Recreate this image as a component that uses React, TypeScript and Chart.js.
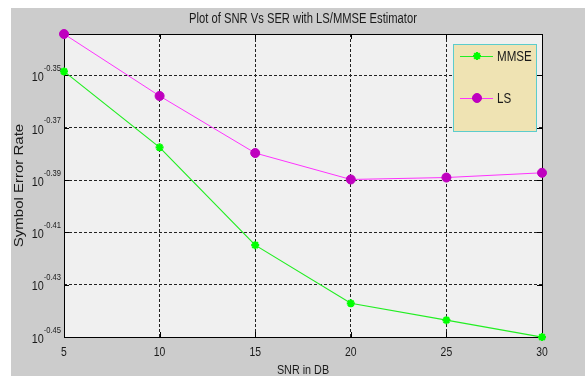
import React, { useEffect, useRef } from "react";
import { Chart, registerables } from "chart.js";
import { drawPoint } from "chart.js/helpers";

Chart.register(...registerables);

const snrDb = [5, 10, 15, 20, 25, 30];
const serMmse = [0.4483, 0.4193, 0.3847, 0.3655, 0.3601, 0.3548];
const serLs = [0.4633, 0.4387, 0.4172, 0.4076, 0.4083, 0.41];
const xTickValues = [5, 10, 15, 20, 25, 30];
const yTickExponents = [-0.35, -0.37, -0.39, -0.41, -0.43, -0.45];
const seriesLabels = ["MMSE", "LS"];
const titleText = "Plot of SNR Vs SER with LS/MMSE Estimator";
const xTitle = "SNR in DB";
const yTitle = "Symbol Error Rate";

const FONT = "'Liberation Sans', Arial, Helvetica, sans-serif";
const SQ = 0.8; // horizontal condensation of the text

const Y_MIN = Math.pow(10, -0.45);
const Y_MAX = Math.max(...serLs, ...serMmse);

function squeezedText(ctx: CanvasRenderingContext2D, text: string, x: number, y: number, size: number, align: "left" | "right" | "center") {
  ctx.save();
  ctx.font = `${size}px ${FONT}`;
  ctx.textBaseline = "middle";
  ctx.textAlign = "left";
  const w = ctx.measureText(text).width * SQ;
  let x0 = x;
  if (align === "center") x0 = x - w / 2;
  if (align === "right") x0 = x - w;
  ctx.translate(x0, y);
  ctx.scale(SQ, 1);
  ctx.fillText(text, 0, 0);
  ctx.restore();
  return w;
}

function measureSqueezed(ctx: CanvasRenderingContext2D, text: string, size: number) {
  ctx.save();
  ctx.font = `${size}px ${FONT}`;
  const w = ctx.measureText(text).width * SQ;
  ctx.restore();
  return w;
}

const decorPlugin = {
  id: "matlabDecor",
  beforeDraw(chart: any) {
    const { ctx, width, height, chartArea: a } = chart;
    ctx.save();
    ctx.fillStyle = "#ffffff";
    ctx.fillRect(0, 0, width, height);
    ctx.fillStyle = "#cccccc";
    ctx.fillRect(11, 8, width - 11, height - 8);
    ctx.fillStyle = "#f0f0f0";
    ctx.fillRect(a.left, a.top, a.right - a.left, a.bottom - a.top);
    ctx.restore();
  },
  beforeDatasetsDraw(chart: any) {
    const { ctx, chartArea: a, scales } = chart;
    const xs = scales.x;
    const ys = scales.y;
    ctx.save();
    ctx.strokeStyle = "#000";
    ctx.lineWidth = 1;
    ctx.strokeRect(Math.round(a.left) + 0.5, Math.round(a.top) + 0.5, Math.round(a.right - a.left), Math.round(a.bottom - a.top));
    ctx.beginPath();
    xTickValues.forEach((v) => {
      const px = Math.round(xs.getPixelForValue(v)) + 0.5;
      ctx.moveTo(px, a.bottom);
      ctx.lineTo(px, a.bottom - 5);
      ctx.moveTo(px, a.top);
      ctx.lineTo(px, a.top + 5);
    });
    yTickExponents.forEach((e) => {
      const py = Math.round(ys.getPixelForValue(Math.pow(10, e))) + 0.5;
      ctx.moveTo(a.left, py);
      ctx.lineTo(a.left + 5, py);
      ctx.moveTo(a.right, py);
      ctx.lineTo(a.right - 5, py);
    });
    ctx.stroke();
    ctx.restore();
  },
  afterDatasetsDraw(chart: any) {
    const { ctx, chartArea: a, scales } = chart;
    const xs = scales.x;
    const ys = scales.y;
    ctx.save();
    ctx.fillStyle = "#1a1a1a";
    // x tick labels
    xTickValues.forEach((v) => {
      squeezedText(ctx, String(v), xs.getPixelForValue(v), a.bottom + 15, 13, "center");
    });
    // y tick labels 10^e
    yTickExponents.forEach((e) => {
      const py = ys.getPixelForValue(Math.pow(10, e));
      const expStr = e.toFixed(2);
      const expW = measureSqueezed(ctx, expStr, 9.5);
      const expX = a.left - 3 - expW;
      squeezedText(ctx, expStr, expX, py - 7, 9.5, "left");
      squeezedText(ctx, "10", expX, py + 2, 13.5, "right");
    });
    // title
    squeezedText(ctx, titleText, (a.left + a.right) / 2, 19, 14, "center");
    // x title
    squeezedText(ctx, xTitle, (a.left + a.right) / 2, 370, 13.5, "center");
    // y title (rotated; glyph height condensed)
    ctx.save();
    ctx.translate(20, (a.top + a.bottom) / 2);
    ctx.scale(SQ, 1);
    ctx.rotate(-Math.PI / 2);
    ctx.font = `15px ${FONT}`;
    ctx.textAlign = "center";
    ctx.textBaseline = "middle";
    ctx.fillText(yTitle, 0, 0);
    ctx.restore();

    // legend
    const lx = 453, ly = 44, lw = 83, lh = 87;
    ctx.fillStyle = "#efe3b3";
    ctx.fillRect(lx, ly, lw, lh);
    ctx.strokeStyle = "#5ccccc";
    ctx.lineWidth = 1;
    ctx.strokeRect(lx + 0.5, ly + 0.5, lw, lh);
    const rows = [56, 98];
    chart.data.datasets.forEach((ds: any, i: number) => {
      const yy = rows[i];
      ctx.strokeStyle = ds.borderColor;
      ctx.lineWidth = 1;
      ctx.beginPath();
      ctx.moveTo(460, yy + 0.5);
      ctx.lineTo(493, yy + 0.5);
      ctx.stroke();
      ctx.fillStyle = ds.pointBackgroundColor;
      ctx.strokeStyle = ds.pointBorderColor;
      ctx.lineWidth = ds.pointBorderWidth;
      drawPoint(ctx, { pointStyle: ds.pointStyle, radius: ds.pointRadius, borderWidth: ds.pointBorderWidth, rotation: 0 }, 477, yy);
      ctx.fillStyle = "#1a1a1a";
      squeezedText(ctx, ds.label, 497, yy + 1, 14.5, "left");
    });
    ctx.restore();
  },
};

export default function App() {
  const ref = useRef<HTMLCanvasElement>(null);
  useEffect(() => {
    document.body.style.margin = "0";
    const canvas = ref.current!;
    const chart = new Chart(canvas, {
      type: "line",
      data: {
        datasets: [
          {
            label: seriesLabels[0],
            data: snrDb.map((x, i) => ({ x, y: serMmse[i] })),
            borderColor: "#22ee22",
            borderWidth: 1.2,
            pointStyle: "star",
            pointRadius: 4,
            pointBorderWidth: 2.2,
            pointBackgroundColor: "#00ff00",
            pointBorderColor: "#00ff00",
            fill: false,
            clip: false,
          },
          {
            label: seriesLabels[1],
            data: snrDb.map((x, i) => ({ x, y: serLs[i] })),
            borderColor: "#ff33ff",
            borderWidth: 1,
            pointStyle: "circle",
            pointRadius: 4.5,
            pointBorderWidth: 1,
            pointBackgroundColor: "#bf00bf",
            pointBorderColor: "#bf00bf",
            fill: false,
            clip: false,
          },
        ],
      },
      options: {
        animation: false,
        responsive: false,
        maintainAspectRatio: false,
        layout: { padding: { left: 64, top: 34, right: 43, bottom: 39 } },
        plugins: { legend: { display: false }, title: { display: false }, tooltip: { enabled: false } },
        elements: { line: { tension: 0 } },
        scales: {
          x: {
            type: "linear",
            min: 5,
            max: 30,
            bounds: "data",
            afterBuildTicks: (s: any) => {
              s.ticks = xTickValues.map((v) => ({ value: v }));
              s.min = 5;
              s.max = 30;
            },
            ticks: { display: false },
            grid: { color: "#222222", lineWidth: 1, drawTicks: false },
            border: { display: false, dash: [3, 2] },
          },
          y: {
            type: "logarithmic",
            min: Y_MIN,
            max: Y_MAX,
            bounds: "data",
            afterBuildTicks: (s: any) => {
              s.ticks = yTickExponents.map((e) => ({ value: Math.pow(10, e) }));
              s.min = Y_MIN;
              s.max = Y_MAX;
            },
            ticks: { display: false },
            grid: { color: "#222222", lineWidth: 1, drawTicks: false },
            border: { display: false, dash: [3, 2] },
          },
        },
      },
      plugins: [decorPlugin],
    });
    return () => chart.destroy();
  }, []);
  return <canvas ref={ref} width={585} height={376} style={{ display: "block" }} />;
}
